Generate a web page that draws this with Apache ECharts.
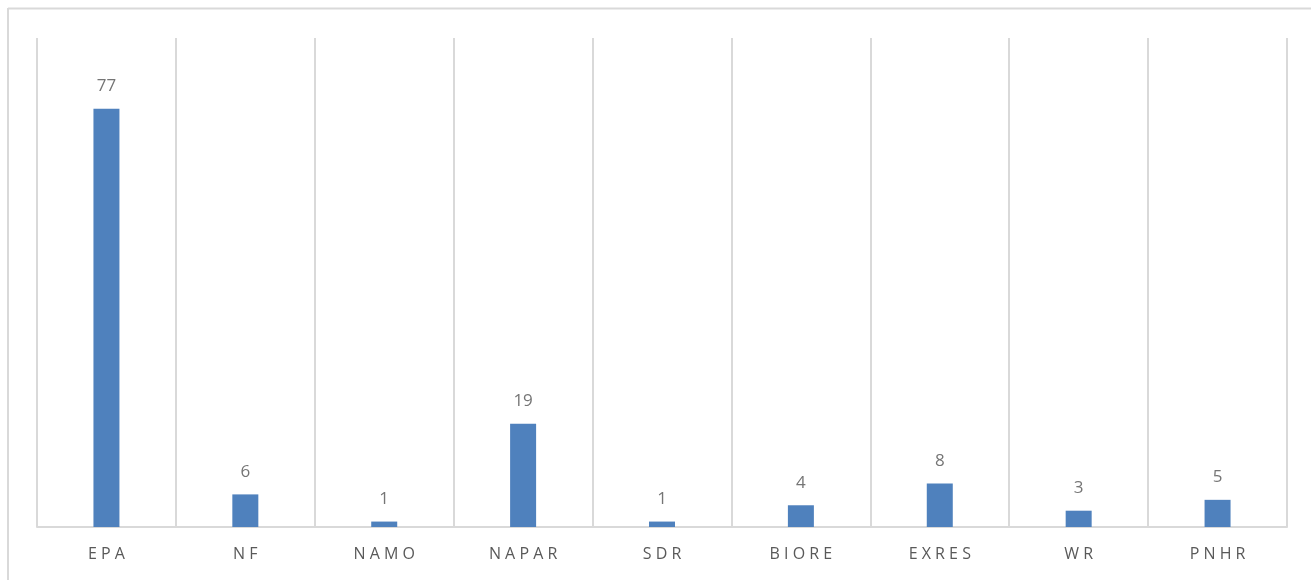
<!DOCTYPE html>
<html>
<head>
<meta charset="utf-8">
<script src="https://cdn.jsdelivr.net/npm/echarts@6/dist/echarts.min.js"></script>
<style>
html,body{margin:0;padding:0;background:#fff;}
#c{width:1311px;height:580px;}
</style>
</head>
<body>
<div id="c"></div>
<script>
const categories = ["EPA", "NF", "NAMO", "NAPAR", "SDR", "BIORE", "EXRES", "WR", "PNHR"];
const values = [77, 6, 1, 19, 1, 4, 8, 3, 5];

const chart = echarts.init(document.getElementById('c'));
chart.setOption({
  animation: false,
  backgroundColor: '#ffffff',
  graphic: [
    { type: 'line', shape: { x1: 8, y1: 8.5, x2: 1311, y2: 8.5 }, style: { stroke: '#d9d9d9', lineWidth: 2 } },
    { type: 'line', shape: { x1: 8, y1: 8, x2: 8, y2: 580 }, style: { stroke: '#d9d9d9', lineWidth: 2 } }
  ],
  grid: { left: 37, right: 24, top: 38, bottom: 53 },
  xAxis: {
    type: 'category',
    data: categories,
    axisLine: { show: true, lineStyle: { color: '#d9d9d9', width: 2 } },
    axisTick: { show: false },
    splitLine: { show: true, lineStyle: { color: '#d9d9d9', width: 2 } },
    axisLabel: {
      color: '#595959',
      fontSize: 16,
      fontFamily: 'Open Sans, Liberation Sans, sans-serif',
      margin: 19,
      formatter: v => v.split('').join(' ')
    }
  },
  yAxis: {
    type: 'value',
    min: 0,
    max: 90,
    interval: 10,
    show: false,
    splitLine: { show: false }
  },
  series: [{
    type: 'bar',
    data: values,
    barWidth: 26,
    itemStyle: { color: '#4f81bd' },
    label: {
      show: true,
      position: 'top',
      distance: 14,
      color: '#757575',
      fontSize: 17,
      fontFamily: 'Open Sans, Liberation Sans, sans-serif'
    }
  }]
});
</script>
</body>
</html>
